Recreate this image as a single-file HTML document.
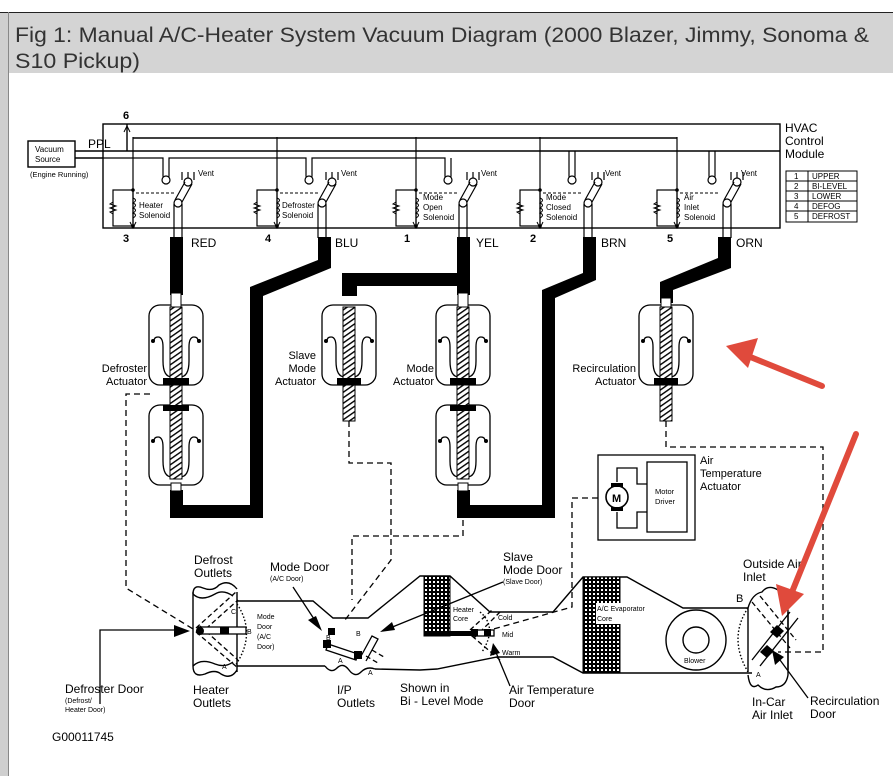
<!DOCTYPE html>
<html><head><meta charset="utf-8"><style>
html,body{margin:0;padding:0;background:#fff;}
svg{display:block;font-family:"Liberation Sans",Arial,sans-serif;}
</style></head><body>
<svg width="893" height="776" viewBox="0 0 893 776" xmlns="http://www.w3.org/2000/svg">
<defs>
<pattern id="hat" width="4.5" height="4.5" patternUnits="userSpaceOnUse" patternTransform="rotate(-35)">
<rect width="4.5" height="4.5" fill="#fff"/><rect width="4.5" height="1.4" fill="#000"/></pattern>
<pattern id="grid" width="4" height="4" patternUnits="userSpaceOnUse">
<rect width="4" height="4" fill="#000"/><rect x="1" y="1" width="2" height="2" fill="#fff"/></pattern>
<g id="body">
<rect x="-27" y="0" width="54" height="80" rx="11" fill="#fff" stroke="#000" stroke-width="1.3"/>
<path d="M-22,36 q0,-4 4,-4 q5,0 5,10 v14 q0,16 9,16 h8 q9,0 9,-16 v-14 q0,-10 5,-10 q4,0 4,4" fill="none" stroke="#000" stroke-width="1.3"/>
<circle cx="-23" cy="36" r="2" fill="#000"/><circle cx="23" cy="36" r="2" fill="#000"/>
<rect x="-6" y="2" width="12" height="72" fill="url(#hat)" stroke="#000" stroke-width="1"/>
</g>
<g id="sol">
<rect x="-20" y="190" width="20" height="36" fill="none" stroke="#000" stroke-width="1.2"/>
<path d="M-20,202 l-3,2 6,2 -6,2 6,2 -6,2 3,2" fill="none" stroke="#000"/>
<path d="M0,198 q5,2 0,5 q5,2 0,5 q5,2 0,5 q5,2 0,5" fill="none" stroke="#000"/>
<circle cx="0" cy="190" r="1.8" fill="#000"/><circle cx="0" cy="226" r="1.8" fill="#000"/>
<line x1="0" y1="137" x2="0" y2="228" stroke="#000" stroke-width="1.2"/>
<path d="M-3,222 L0,228 L3,222" fill="none" stroke="#000"/>
<line x1="3" y1="193" x2="43" y2="193" stroke="#000" stroke-dasharray="3,2"/>
</g>
<g id="sw">
<path d="M0,172 v10" stroke="#000" fill="none" stroke-width="1.2"/>
<path d="M-6,172 v8 M6,172 v8" stroke="#000" fill="none" stroke-width="1.2"/>
<circle cx="0" cy="182" r="4" fill="#fff" stroke="#000" stroke-width="1.2"/>
<path d="M-3,182 l-10,18 M4,184 l-10,18" stroke="#000" stroke-width="1.2"/>
<circle cx="-10" cy="203" r="4" fill="#fff" stroke="#000" stroke-width="1.2"/>
<path d="M-14,204 v34 M-6,204 v34" stroke="#000" stroke-width="1.2"/>
</g>
</defs>

<rect x="0" y="12" width="893" height="764" fill="#fff"/>
<rect x="0" y="12" width="8" height="764" fill="#cfcfcf"/>
<rect x="8" y="12" width="885" height="61" fill="#d4d4d4"/>
<line x1="0" y1="12.5" x2="893" y2="12.5" stroke="#222" stroke-width="1"/>
<line x1="8.5" y1="12" x2="8.5" y2="776" stroke="#888" stroke-width="1"/>
<text x="15" y="42" font-size="21" fill="#333" textLength="854" lengthAdjust="spacingAndGlyphs" font-family="'Liberation Sans Narrow','Liberation Sans',sans-serif">Fig 1: Manual A/C-Heater System Vacuum Diagram (2000 Blazer, Jimmy, Sonoma &amp;</text>
<text x="15" y="68" font-size="21" fill="#333" textLength="125" lengthAdjust="spacingAndGlyphs" font-family="'Liberation Sans Narrow','Liberation Sans',sans-serif">S10 Pickup)</text>

<g stroke="#000" fill="none" stroke-width="1.4">
<rect x="103" y="124" width="677" height="104"/>
<rect x="28" y="141" width="47" height="26"/>
<path d="M75,151 H780"/>
<path d="M75,158 H103"/>
<path d="M127,151 V124"/>
<path d="M133,138 H677"/>
</g>
<path d="M124,132 L127,126 L130,132" fill="none" stroke="#000"/>
<g stroke="#000" fill="none" stroke-width="1.2">
<path d="M103,158 H163 V176 a3,3 0 0 0 6,0 V158 H306 V176 a3,3 0 0 0 6,0 V158 H445 V176 a3,3 0 0 0 6,0 V158"/>
<path d="M569,151 V176 a3,3 0 0 0 6,0 V151"/>
<path d="M709,151 V176 a3,3 0 0 0 6,0 V151"/>
</g>
<g fill="#fff" stroke="#000" stroke-width="1.2">
<circle cx="166" cy="180" r="4"/><circle cx="309" cy="180" r="4"/><circle cx="448" cy="180" r="4"/><circle cx="572" cy="180" r="4"/><circle cx="712" cy="180" r="4"/>
</g>
<use href="#sol" x="133" y="0"/><use href="#sol" x="277" y="0"/><use href="#sol" x="416" y="0"/><use href="#sol" x="540" y="0"/><use href="#sol" x="677" y="0"/>
<use href="#sw" x="188" y="0"/><use href="#sw" x="332" y="0"/><use href="#sw" x="473" y="0"/><use href="#sw" x="598" y="0"/><use href="#sw" x="737" y="0"/>

<g font-size="8" fill="#000">
<text x="35" y="152">Vacuum</text><text x="35" y="162">Source</text>
<text x="30" y="177" font-size="7.5">(Engine Running)</text>
<text x="139" y="208">Heater</text><text x="139" y="218">Solenoid</text>
<text x="282" y="208">Defroster</text><text x="282" y="218">Solenoid</text>
<text x="423" y="200">Mode</text><text x="423" y="210">Open</text><text x="423" y="220">Solenoid</text>
<text x="546" y="200">Mode</text><text x="546" y="210">Closed</text><text x="546" y="220">Solenoid</text>
<text x="684" y="200">Air</text><text x="684" y="210">Inlet</text><text x="684" y="220">Solenoid</text>
<text x="198" y="176">Vent</text><text x="341" y="176">Vent</text><text x="481" y="176">Vent</text><text x="605" y="176">Vent</text><text x="741" y="176">Vent</text>
</g>
<g font-size="11" font-weight="bold" fill="#000">
<text x="88" y="148" font-weight="normal" font-size="12">PPL</text>
<text x="123" y="119">6</text>
<text x="123" y="242">3</text><text x="265" y="242">4</text><text x="404" y="242">1</text><text x="530" y="242">2</text><text x="667" y="242">5</text>
</g>
<g font-size="12" fill="#000">
<text x="191" y="247">RED</text><text x="335" y="247">BLU</text><text x="476" y="247">YEL</text><text x="601" y="247">BRN</text><text x="736" y="247">ORN</text>
<text x="785" y="132">HVAC</text><text x="785" y="145">Control</text><text x="785" y="158">Module</text>
</g>
<g stroke="#000" fill="none" stroke-width="1">
<rect x="786" y="171" width="71" height="51"/>
<line x1="808" y1="171" x2="808" y2="222"/>
<line x1="786" y1="181" x2="857" y2="181"/><line x1="786" y1="191" x2="857" y2="191"/><line x1="786" y1="201" x2="857" y2="201"/><line x1="786" y1="211" x2="857" y2="211"/>
</g>
<g font-size="8" fill="#000">
<text x="794" y="179">1</text><text x="812" y="179">UPPER</text>
<text x="794" y="189">2</text><text x="812" y="189">BI-LEVEL</text>
<text x="794" y="199">3</text><text x="812" y="199">LOWER</text>
<text x="794" y="209">4</text><text x="812" y="209">DEFOG</text>
<text x="794" y="219">5</text><text x="812" y="219">DEFROST</text>
</g>

<g fill="#000">
<rect x="170" y="237" width="13" height="58"/>
<path d="M318,237 H331 V268 L263,296 V518 H170 V490 H183 V505 H250 V287 L318,260 Z"/>
<rect x="457" y="237" width="13" height="58"/>
<path d="M342,273 H470 V286 H357 V296 H342 Z"/>
<path d="M583,237 H596 V280 L555,298 V518 H457 V490 H470 V505 H542 V290 L583,273 Z"/>
<path d="M718,237 H731 V268 L673,290 V303 H660 V282 L718,258 Z"/>
</g>

<use href="#body" x="176" y="305"/><use href="#body" x="176" y="405"/>
<rect x="170" y="385" width="12" height="22" fill="url(#hat)" stroke="#000"/>
<rect x="163" y="378" width="26" height="7" fill="#000"/><rect x="163" y="405" width="26" height="6" fill="#000"/>
<rect x="171" y="293" width="10" height="14" fill="#fff" stroke="#000"/>
<rect x="171" y="483" width="10" height="8" fill="#fff" stroke="#000"/>

<use href="#body" x="349" y="305"/>
<rect x="343" y="385" width="12" height="36" fill="url(#hat)" stroke="#000"/>
<rect x="337" y="378" width="24" height="7" fill="#000"/>

<use href="#body" x="463" y="305"/><use href="#body" x="463" y="405"/>
<rect x="457" y="385" width="12" height="22" fill="url(#hat)" stroke="#000"/>
<rect x="450" y="378" width="26" height="7" fill="#000"/><rect x="450" y="405" width="26" height="6" fill="#000"/>
<rect x="458" y="293" width="10" height="14" fill="#fff" stroke="#000"/>
<rect x="458" y="483" width="10" height="8" fill="#fff" stroke="#000"/>

<use href="#body" x="666" y="305"/>
<rect x="660" y="385" width="12" height="36" fill="url(#hat)" stroke="#000"/>
<rect x="654" y="378" width="24" height="7" fill="#000"/>
<rect x="661" y="298" width="10" height="9" fill="#fff" stroke="#000"/>

<g font-size="11" fill="#000" text-anchor="end">
<text x="147" y="372">Defroster</text><text x="147" y="385">Actuator</text>
<text x="316" y="359">Slave</text><text x="316" y="372">Mode</text><text x="316" y="385">Actuator</text>
<text x="434" y="372">Mode</text><text x="434" y="385">Actuator</text>
<text x="636" y="372">Recirculation</text><text x="636" y="385">Actuator</text>
</g>

<g stroke="#000" fill="none" stroke-width="1.3" stroke-dasharray="6,4">
<path d="M150,394 H126 V588 L198,632"/>
<path d="M349,421 V463 H391 V560 L345,620"/>
<path d="M463,520 V536 H352 V600"/>
<path d="M598,498 H572 V607 L490,630"/>
<path d="M666,421 V447 H823 V652 H778"/>
</g>

<g stroke="#000" fill="none" stroke-width="1.3">
<rect x="598" y="455" width="97" height="85"/>
<rect x="647" y="462" width="40" height="70"/>
<path d="M617,482 V468 H637 V484 H647 M617,512 V528 H637 V512 H647"/>
<circle cx="617" cy="497" r="11" fill="#fff" stroke-width="1.6"/>
</g>
<rect x="611" y="483" width="12" height="4" fill="#000"/><rect x="611" y="507" width="12" height="4" fill="#000"/>
<text x="612" y="502" font-size="11" font-weight="bold">M</text>
<g font-size="7.5"><text x="655" y="494">Motor</text><text x="655" y="504">Driver</text></g>
<g font-size="11"><text x="700" y="464">Air</text><text x="700" y="477">Temperature</text><text x="700" y="490">Actuator</text></g>

<g stroke="#000" fill="none" stroke-width="1.4">
<path d="M237,601 H313 L333,618 H368 L420,576 H450 L490,612 H553 L583,577 H627 L683,608 H748"/>
<path d="M237,666 H325 M375,669 L420,670 L437,669 L497,657 H553 L583,673 H752"/>
<path d="M325,666 q6,8 12,2 q6,-6 12,2 q6,8 12,2 q6,-6 14,-3"/>
<path d="M193,592 V666 M237,592 V672"/>
<path d="M193,594 q0,-10 10,-6 q10,4 16,-3 q10,-6 18,4" />
<path d="M193,594 q8,8 22,0 q8,-5 18,2"/>
<path d="M193,666 q0,12 12,8 q10,-5 16,0 q10,6 16,-4"/>
<path d="M193,666 q8,-8 22,-2 q10,4 18,-2"/>
<path d="M748,608 q4,-14 14,-16 q6,-8 16,-2 q10,8 10,22 V675 q-2,12 -12,12 q-10,6 -18,-2 q-8,6 -10,-10"/>
<path d="M748,608 V672 M788,612 V670"/>
<circle cx="696" cy="640" r="30"/><circle cx="696" cy="640" r="13"/>
<path d="M748,608 q-20,30 0,64" stroke-dasharray="1.5,2"/>
<path d="M237,604 q20,30 -2,62" stroke-dasharray="1.5,2"/>
<path d="M480,612 q18,15 2,40" stroke-dasharray="1.5,2"/>
</g>
<rect x="424" y="576" width="26" height="60" fill="url(#grid)" stroke="#000"/>
<rect x="424" y="631" width="70" height="5" fill="#000"/>
<rect x="583" y="577" width="37" height="96" fill="url(#grid)" stroke="#000"/>
<rect x="596" y="603" width="60" height="21" fill="#fff"/>
<g stroke="#000" fill="none" stroke-width="1.3">
<path d="M196,628 L236,592 M200,634 L238,600" stroke-dasharray="5,3"/>
<path d="M196,632 L238,668 M200,626 L238,660" stroke-dasharray="5,3"/>
<rect x="198" y="627" width="48" height="7" fill="#fff"/>
<path d="M326,650 L356,660 L358,654 L328,644 Z" fill="#fff"/>
<path d="M360,658 l12,-22 6,3 -12,22" fill="#fff"/>
<path d="M366,656 L378,663 M372,650 L384,657" stroke-dasharray="5,3"/>
<path d="M470,630 L492,610 M474,638 L500,612 M472,636 L500,660" stroke-dasharray="5,3"/>
<rect x="472" y="630" width="22" height="6" fill="#fff"/>
<path d="M752,602 L790,648 M760,596 L796,640" stroke-dasharray="5,3"/>
<path d="M752,660 L790,612 M760,666 L798,618" fill="none"/>
</g>
<g fill="#000">
<circle cx="200" cy="631" r="4"/><rect x="220" y="627" width="9" height="7"/>
<rect x="323" y="640" width="8" height="8"/><rect x="328" y="628" width="7" height="7"/>
<rect x="354" y="651" width="8" height="8"/>
<rect x="471" y="629" width="7" height="7"/><rect x="484" y="629" width="7" height="7"/>
<path d="M770,632 l7,-7 7,6 -7,7 Z"/><path d="M760,652 l7,-7 7,6 -7,7 Z"/>
</g>
<g stroke="#000" stroke-width="1.3" fill="none">
<path d="M100,704 V630 H180"/>
<path d="M293,587 L316,622"/>
<path d="M503,582 L390,628"/>
<path d="M510,686 L495,650"/>
<path d="M808,698 L780,660"/>
</g>
<g fill="#000">
<path d="M190,631 L174,625 L174,637 Z"/>
<path d="M322,631 L308,620 L316,616 Z"/>
<path d="M380,632 L392,622 L395,630 Z"/>
<path d="M493,643 L490,656 L500,653 Z"/>
<path d="M772,650 L775,665 L784,657 Z"/>
</g>

<g font-size="12" fill="#000">
<text x="194" y="564">Defrost</text><text x="194" y="577">Outlets</text>
<text x="270" y="571">Mode Door</text>
<text x="65" y="693">Defroster Door</text>
<text x="193" y="694">Heater</text><text x="193" y="707">Outlets</text>
<text x="337" y="694">I/P</text><text x="337" y="707">Outlets</text>
<text x="400" y="692">Shown in</text><text x="400" y="705">Bi - Level Mode</text>
<text x="503" y="561">Slave</text><text x="503" y="574">Mode Door</text>
<text x="509" y="694">Air Temperature</text><text x="509" y="707">Door</text>
<text x="743" y="568">Outside Air</text><text x="743" y="581">Inlet</text>
<text x="752" y="706">In-Car</text><text x="752" y="719">Air Inlet</text>
<text x="810" y="705">Recirculation</text><text x="810" y="718">Door</text>
<text x="52" y="741">G00011745</text>
<text x="736" y="602" font-size="11">B</text>
</g>
<g font-size="7" fill="#000">
<text x="270" y="581">(A/C Door)</text>
<text x="65" y="703">(Defrost/</text><text x="65" y="712">Heater Door)</text>
<text x="257" y="619">Mode</text><text x="257" y="629">Door</text><text x="257" y="639">(A/C</text><text x="257" y="649">Door)</text>
<text x="503" y="584">(Slave Door)</text>
<text x="453" y="612">Heater</text><text x="453" y="621">Core</text>
<text x="498" y="620">Cold</text><text x="502" y="637">Mid</text><text x="502" y="655">Warm</text>
<text x="597" y="611">A/C Evaporator</text><text x="597" y="621">Core</text>
<text x="684" y="663">Blower</text>
<text x="231" y="614">C</text><text x="247" y="634">B</text><text x="222" y="669">A</text>
<text x="326" y="640">B</text><text x="356" y="636">B</text><text x="338" y="663">A</text><text x="368" y="675">A</text>
<text x="756" y="677">A</text>
</g>

<g stroke="#e04a3c" stroke-width="6" stroke-linecap="round" fill="none">
<path d="M822,386 L748,356"/>
<path d="M856,434 L792,592"/>
</g>
<g fill="#e04a3c">
<path d="M726,346 L758,338 L748,368 Z"/>
<path d="M782,616 L776,584 L804,594 Z"/>
</g>
</svg>
</body></html>
